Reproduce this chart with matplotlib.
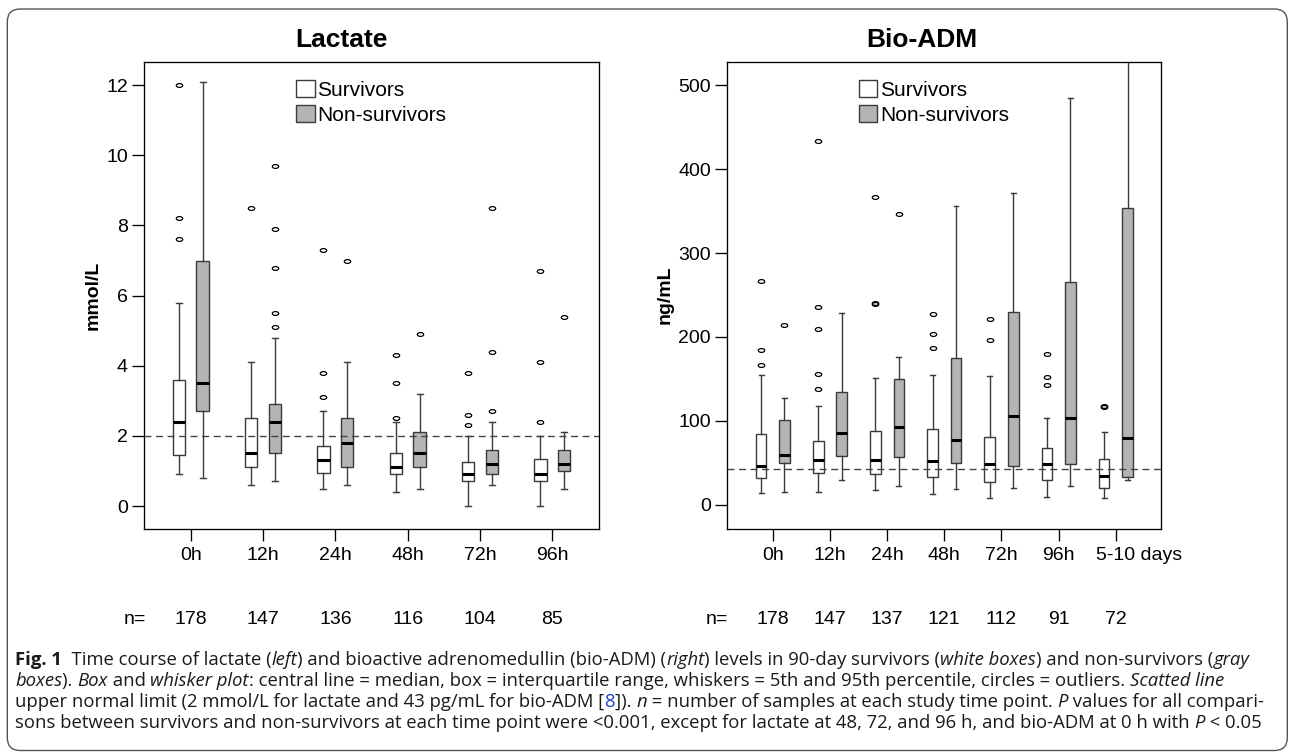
import matplotlib
matplotlib.use('Agg')
import matplotlib.pyplot as plt
import matplotlib.transforms as mtransforms
from matplotlib.path import Path
from matplotlib.patches import FancyBboxPatch, Patch
from matplotlib.text import Annotation
import numpy as np

# ---------------- data ----------------
lac_times = ['0h', '12h', '24h', '48h', '72h', '96h']
lac_n = [178, 147, 136, 116, 104, 85]
lac_surv_whislo = [0.9, 0.6, 0.5, 0.4, 0.0, 0.0]
lac_surv_q1 = [1.45, 1.1, 0.95, 0.9, 0.7, 0.7]
lac_surv_med = [2.4, 1.5, 1.3, 1.1, 0.9, 0.9]
lac_surv_q3 = [3.6, 2.5, 1.7, 1.5, 1.25, 1.35]
lac_surv_whishi = [5.8, 4.1, 2.7, 2.4, 2.0, 2.0]
lac_surv_fliers = [[7.6, 8.2, 12.0], [8.5], [3.1, 3.8, 7.3], [2.5, 3.5, 4.3],
                   [2.3, 2.6, 3.8], [2.4, 4.1, 6.7]]
lac_non_whislo = [0.8, 0.7, 0.6, 0.5, 0.6, 0.5]
lac_non_q1 = [2.7, 1.5, 1.1, 1.1, 0.9, 1.0]
lac_non_med = [3.5, 2.4, 1.8, 1.5, 1.2, 1.2]
lac_non_q3 = [7.0, 2.9, 2.5, 2.1, 1.6, 1.6]
lac_non_whishi = [12.1, 4.8, 4.1, 3.2, 2.4, 2.1]
lac_non_fliers = [[], [5.1, 5.5, 6.8, 7.9, 9.7], [7.0], [4.9], [2.7, 4.4, 8.5], [5.4]]
lac_limit = 2.0

adm_times = ['0h', '12h', '24h', '48h', '72h', '96h', '5-10 days']
adm_n = [178, 147, 137, 121, 112, 91, 72]
adm_surv_whislo = [14, 15, 18, 13, 8, 9.5, 8.7]
adm_surv_q1 = [32, 37.6, 37, 33.7, 27.7, 29.3, 20.6]
adm_surv_med = [47, 53.5, 53.5, 52, 49, 49, 35]
adm_surv_q3 = [85, 76, 88, 90, 81, 68, 55]
adm_surv_whishi = [155, 118, 151, 155, 154, 104, 87]
adm_surv_fliers = [[167, 185, 267], [138, 156, 209, 236, 433], [239, 241, 367],
                   [187, 203, 227], [196, 221], [143, 152, 180], [117, 118]]
adm_non_whislo = [15, 30, 22.6, 18.6, 20, 23, 30]
adm_non_q1 = [50, 58.6, 57, 50, 46.7, 48.3, 33.7]
adm_non_med = [59, 86, 92.7, 77, 105.7, 103.8, 80]
adm_non_q3 = [101, 134, 150.5, 174.7, 229.7, 266, 354]
adm_non_whishi = [127, 229, 176, 356, 371, 485, 560]
adm_non_fliers = [[214], [], [347], [], [], [], []]
adm_limit = 43

legend_labels = ['Survivors', 'Non-survivors']

caption_lines = [
    [("Fig. 1", 'b'), ("  Time course of lactate (", 'n'), ("left", 'i'),
     (") and bioactive adrenomedullin (bio-ADM) (", 'n'), ("right", 'i'),
     (") levels in 90-day survivors (", 'n'), ("white boxes", 'i'),
     (") and non-survivors (", 'n'), ("gray", 'i')],
    [("boxes", 'i'), ("). ", 'n'), ("Box", 'i'), (" and ", 'n'), ("whisker plot", 'i'),
     (": central line = median, box = interquartile range, whiskers = 5th and 95th percentile, circles = outliers. ", 'n'),
     ("Scatted line", 'i')],
    [("upper normal limit (2 mmol/L for lactate and 43 pg/mL for bio-ADM [", 'n'),
     ("8", 'link'), ("]). ", 'n'), ("n", 'i'),
     (" = number of samples at each study time point. ", 'n'), ("P", 'i'),
     (" values for all compari-", 'n')],
    [("sons between survivors and non-survivors at each time point were <0.001, except for lactate at 48, 72, and 96 h, and bio-ADM at 0 h with ", 'n'),
     ("P", 'i'), (" < 0.05", 'n')],
]

# ---------------- style ----------------
W, H = 1292, 753
plt.rcParams['font.family'] = ['Liberation Sans', 'DejaVu Sans']
GRAY = '#b4b4b4'
EDGE = '#3a3a3a'

fig = plt.figure(figsize=(W / 100, H / 100), dpi=100)


def axrect(x0, y0, x1, y1):
    return [x0 / W, 1 - y1 / H, (x1 - x0) / W, (y1 - y0) / H]


ax1 = fig.add_axes(axrect(144, 62, 599, 528.5))
ax2 = fig.add_axes(axrect(727, 62, 1161, 528.5))

ell = Path.unit_circle().transformed(mtransforms.Affine2D().scale(1.0, 0.6))


def stats(lo, q1, med, q3, hi, fl):
    return [dict(whislo=a, q1=b, med=c, q3=d, whishi=e, fliers=f)
            for a, b, c, d, e, f in zip(lo, q1, med, q3, hi, fl)]


def draw_group(ax, st, pos, width, capw, face):
    ax.bxp(st, positions=pos, widths=width, capwidths=capw, patch_artist=True,
           manage_ticks=False,
           boxprops=dict(facecolor=face, edgecolor=EDGE, linewidth=1.0),
           whiskerprops=dict(color=EDGE, linewidth=1.0),
           capprops=dict(color=EDGE, linewidth=1.0),
           medianprops=dict(color='black', linewidth=2.2, solid_capstyle='butt'),
           flierprops=dict(marker=ell, markersize=4.6, markerfacecolor='none',
                           markeredgecolor='black', markeredgewidth=0.9))


def setup(ax, times, n, off, width, capw, xlim, ylim, yticks, ylabel, limit,
          surv, non, legx, nx):
    x = np.arange(len(times))
    draw_group(ax, surv, x - off, width, capw, 'white')
    draw_group(ax, non, x + off, width, capw, GRAY)
    ax.axhline(limit, color='#444444', linewidth=1.0, linestyle=(0, (5, 3.3)), zorder=5)
    ax.set_xlim(*xlim)
    ax.set_ylim(*ylim)
    ax.set_xticks(x)
    ax.set_xticklabels(times, fontsize=14)
    ax.set_yticks(yticks)
    ax.set_yticklabels([str(t) for t in yticks], fontsize=14)
    ax.tick_params(axis='both', direction='out', length=8.6, width=0.95, color='black')
    ax.tick_params(axis='x', pad=4.5)
    ax.tick_params(axis='y', pad=3)
    for sp in ax.spines.values():
        sp.set_linewidth(0.95)
        sp.set_color('black')
    ax.set_ylabel(ylabel, fontsize=14, fontweight='bold', labelpad=3)
    handles = [Patch(facecolor='white', edgecolor=EDGE, linewidth=1.0),
               Patch(facecolor=GRAY, edgecolor=EDGE, linewidth=1.0)]
    ax.legend(handles, legend_labels, loc='upper left', bbox_to_anchor=(legx, 0.962),
              frameon=False, fontsize=15, handlelength=0.9, handleheight=0.9,
              handletextpad=0.12, labelspacing=0.25, borderpad=0, borderaxespad=0)
    # n= row
    tr = mtransforms.blended_transform_factory(ax.transData, fig.transFigure)
    yrow = 1 - 620 / H
    ax.text(nx, yrow, 'n=', transform=tr, ha='center', va='center', fontsize=14, clip_on=False)
    for xi, ni in zip(x, n):
        ax.text(xi, yrow, str(ni), transform=tr, ha='center', va='center', fontsize=14, clip_on=False)


setup(ax1, lac_times, lac_n, 0.165, 0.17, 0.083, (-0.645, 5.645), (-0.64, 12.66),
      [0, 2, 4, 6, 8, 10, 12], 'mmol/L', lac_limit,
      stats(lac_surv_whislo, lac_surv_q1, lac_surv_med, lac_surv_q3, lac_surv_whishi, lac_surv_fliers),
      stats(lac_non_whislo, lac_non_q1, lac_non_med, lac_non_q3, lac_non_whishi, lac_non_fliers),
      0.334, -0.77)
setup(ax2, adm_times, adm_n, 0.205, 0.186, 0.087, (-0.8, 6.79), (-28.0, 527.4),
      [0, 100, 200, 300, 400, 500], 'ng/mL', adm_limit,
      stats(adm_surv_whislo, adm_surv_q1, adm_surv_med, adm_surv_q3, adm_surv_whishi, adm_surv_fliers),
      stats(adm_non_whislo, adm_non_q1, adm_non_med, adm_non_q3, adm_non_whishi, adm_non_fliers),
      0.3035, -0.98)

# shift "5-10 days" so that "5-10" sits on its tick
lab = ax2.get_xticklabels()[-1]
lab.set_transform(lab.get_transform() + mtransforms.ScaledTranslation(0.23, 0, fig.dpi_scale_trans))

# titles
fig.text(341 / W, 1 - 40 / H, 'Lactate', fontsize=19, fontweight='bold', ha='center', va='center')
fig.text(922 / W, 1 - 40 / H, 'Bio-ADM', fontsize=19, fontweight='bold', ha='center', va='center')

# outer rounded frame (inches, origin bottom-left)
frame = FancyBboxPatch((0.073, 0.025), 12.80, 7.415,
                       boxstyle='round,pad=0,rounding_size=0.13',
                       transform=fig.dpi_scale_trans, facecolor='none',
                       edgecolor='#555555', linewidth=1.0, zorder=10)
fig.add_artist(frame)

# caption (rich text chained piecewise)
CAP_FONT = ['Open Sans', 'Liberation Sans', 'DejaVu Sans']
baselines = [665, 686, 707, 728]
line_ts = []
for line, yb in zip(caption_lines, baselines):
    prev = None
    cur = []
    for txt, sty in line:
        kw = dict(fontsize=11, family=CAP_FONT, color='#1a1a1a')
        if sty == 'b':
            kw['fontweight'] = 'bold'
        elif sty == 'i':
            kw['fontstyle'] = 'italic'
        elif sty == 'link':
            kw['color'] = '#1f3fd0'
        if prev is None:
            t = fig.text(15 / W, 1 - yb / H, txt, ha='left', va='baseline', **kw)
        else:
            t = Annotation(txt, xy=(1, 0), xycoords=prev, ha='left', va='bottom', **kw)
            fig.add_artist(t)
        cur.append(t)
        prev = t
    line_ts.append(cur)

# fit caption size so that the first line spans the reference width
fig.canvas.draw()
r = fig.canvas.get_renderer()
ext0 = line_ts[0][0].get_window_extent(r).x0
ext1 = line_ts[0][-1].get_window_extent(r).x1
scale = 1233.0 / (ext1 - ext0)
for cur in line_ts:
    for t in cur:
        t.set_fontsize(11 * scale)

fig.savefig('out.png', dpi=100)
